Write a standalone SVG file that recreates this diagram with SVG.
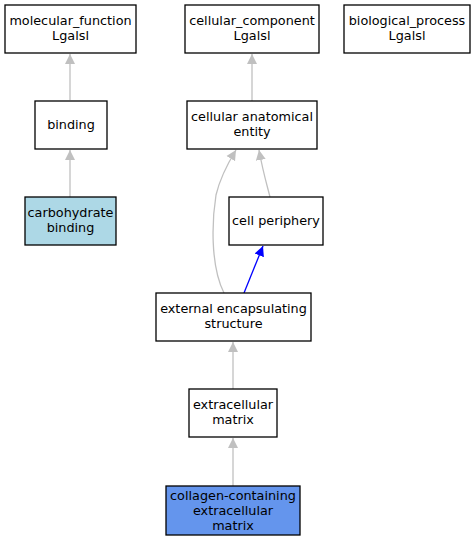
<svg xmlns="http://www.w3.org/2000/svg" width="475" height="541" viewBox="0 0 475 541">
<defs>
<marker id="ag" markerWidth="10" markerHeight="14" refX="10" refY="5" orient="auto" markerUnits="userSpaceOnUse" viewBox="0 0 10 10"><path d="M0,0 L10,5 L0,10 Z" fill="#c0c0c0"/></marker>
<marker id="ab" markerWidth="10" markerHeight="14" refX="10" refY="5" orient="auto" markerUnits="userSpaceOnUse" viewBox="0 0 10 10"><path d="M0,0 L10,5 L0,10 Z" fill="#0000ff"/></marker>
</defs>
<style>
rect{stroke:#000;stroke-width:1.3}
text{font-family:"DejaVu Sans",sans-serif;font-size:12.8px;text-anchor:middle;fill:#000}
.e{fill:none;stroke:#c0c0c0;stroke-width:1.3;marker-end:url(#ag)}
.b{fill:none;stroke:#0000ff;stroke-width:1.3;marker-end:url(#ab)}
</style>
<rect width="475" height="541" fill="#fff" style="stroke:none"/>
<g id="edges">
<path class="e" d="M70,100 L70,54"/>
<path class="e" d="M252,101 L252,54"/>
<path class="e" d="M70,197 L70,150"/>
<path class="e" d="M270,197 C267,185 263,172 259,150"/>
<path class="e" d="M224,293 C210,265 212,220 216,195 C220,178 228,163 236,150"/>
<path class="b" d="M244,293 L263,246"/>
<path class="e" d="M233,389 L233,342"/>
<path class="e" d="M233,486 L233,438"/>
</g>
<g id="mf"><rect x="5" y="5" width="131" height="48" fill="#fff"/><text x="70.5" y="25">molecular_function</text><text x="70.5" y="40">Lgalsl</text></g>
<g id="cc"><rect x="185" y="5" width="134" height="48" fill="#fff"/><text x="252" y="25">cellular_component</text><text x="252" y="40">Lgalsl</text></g>
<g id="bp"><rect x="344" y="5" width="126" height="48" fill="#fff"/><text x="407" y="25">biological_process</text><text x="407" y="40">Lgalsl</text></g>
<g id="binding"><rect x="35" y="101" width="72" height="48" fill="#fff"/><text x="71" y="129">binding</text></g>
<g id="cae"><rect x="187" y="101" width="130" height="48" fill="#fff"/><text x="252" y="121">cellular anatomical</text><text x="252" y="136">entity</text></g>
<g id="carb"><rect x="25" y="197" width="91" height="48" fill="#add8e6"/><text x="70.5" y="217">carbohydrate</text><text x="70.5" y="232">binding</text></g>
<g id="cp"><rect x="229" y="197" width="94" height="48" fill="#fff"/><text x="276" y="225">cell periphery</text></g>
<g id="ees"><rect x="156" y="293" width="155" height="48" fill="#fff"/><text x="233.5" y="313">external encapsulating</text><text x="233.5" y="328">structure</text></g>
<g id="ecm"><rect x="189" y="389" width="88" height="48" fill="#fff"/><text x="233" y="409">extracellular</text><text x="233" y="424">matrix</text></g>
<g id="col"><rect x="166" y="486" width="134" height="49" fill="#6495ed"/><text x="233" y="500">collagen-containing</text><text x="233" y="515">extracellular</text><text x="233" y="530">matrix</text></g>
</svg>
